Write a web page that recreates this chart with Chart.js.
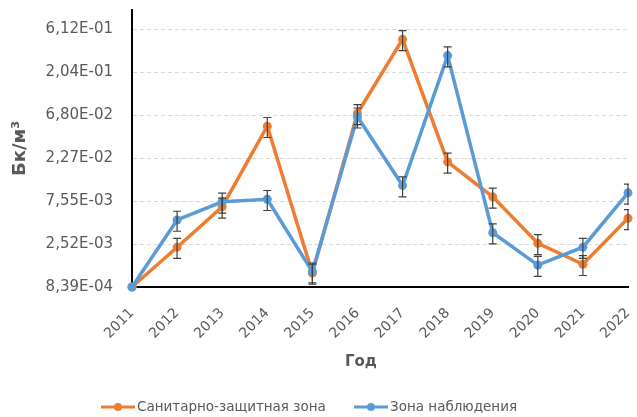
<!DOCTYPE html>
<html>
<head>
<meta charset="utf-8">
<script src="https://cdn.jsdelivr.net/npm/chart.js@4/dist/chart.umd.min.js"></script>
<style>
  html, body { margin: 0; padding: 0; background: #fff; }
  #wrap { width: 637px; height: 417px; }
</style>
</head>
<body>
<div id="wrap"><canvas id="c" width="637" height="417"></canvas></div>
<script>
// Годы наблюдений
const years = ['2011','2012','2013','2014','2015','2016','2017','2018','2019','2020','2021','2022'];

// Объёмная активность, Бк/м³
const sanZone = [8.39e-4, 2.32e-3, 6.5e-3, 5.1e-2, 1.2e-3, 7.1e-2, 0.47, 2.05e-2, 8.4e-3, 2.56e-3, 1.5e-3, 4.85e-3];
const obsZone = [8.39e-4, 4.65e-3, 7.4e-3, 7.9e-3, 1.24e-3, 6.5e-2, 1.12e-2, 0.31, 3.36e-3, 1.47e-3, 2.32e-3, 9.3e-3];

// Относительная погрешность (доля от значения)
const sanErr = [0, 0.25, 0.25, 0.25, 0.25, 0.25, 0.25, 0.25, 0.25, 0.25, 0.25, 0.25];
const obsErr = [0, 0.25, 0.25, 0.25, 0.25, 0.25, 0.25, 0.25, 0.25, 0.25, 0.25, 0.25];

// Деления логарифмической оси (шаг ×3)
const yTickValues = [8.39e-4, 2.517e-3, 7.551e-3, 2.2653e-2, 6.7959e-2, 0.203877, 0.61163];
const yTickLabels = ['8,39E-04', '2,52E-03', '7,55E-03', '2,27E-02', '6,80E-02', '2,04E-01', '6,12E-01'];

const seriesNames = ['Санитарно-защитная зона', 'Зона наблюдения'];
const ORANGE = '#ED7D31';
const BLUE = '#5B9BD5';
const TEXT = '#595959';
const FONT = '"DejaVu Sans", "Liberation Sans", sans-serif';

// Планки погрешностей
const errorBars = {
  id: 'errorBars',
  afterDatasetsDraw(chart) {
    const ctx = chart.ctx;
    const y = chart.scales.y;
    const x = chart.scales.x;
    const area = chart.chartArea;
    ctx.save();
    ctx.beginPath();
    ctx.rect(area.left - 6, area.top, area.right - area.left + 7, area.bottom - area.top);
    ctx.clip();
    ctx.strokeStyle = '#3f3f3f';
    ctx.lineWidth = 1.2;
    chart.data.datasets.forEach(ds => {
      ds.data.forEach((v, i) => {
        const f = ds.errFrac[i];
        if (!f) return;
        const px = x.getPixelForValue(i);
        const yt = y.getPixelForValue(v * (1 + f));
        const yb = y.getPixelForValue(v * (1 - f));
        ctx.beginPath();
        ctx.moveTo(px, yt); ctx.lineTo(px, yb);
        ctx.moveTo(px - 4, yt); ctx.lineTo(px + 4, yt);
        ctx.moveTo(px - 4, yb); ctx.lineTo(px + 4, yb);
        ctx.stroke();
      });
    });
    ctx.restore();
  }
};

// Подпись оси X и легенда
const extras = {
  id: 'extras',
  afterDraw(chart) {
    const ctx = chart.ctx;
    ctx.save();
    ctx.fillStyle = TEXT;
    ctx.font = 'bold 15px ' + FONT;
    ctx.textAlign = 'center';
    ctx.textBaseline = 'middle';
    ctx.fillText('Год', 361, 362);

    const items = [
      { x: 101, color: ORANGE, text: seriesNames[0] },
      { x: 354, color: BLUE, text: seriesNames[1] }
    ];
    const ly = 407;
    ctx.font = '13.5px ' + FONT;
    ctx.textAlign = 'left';
    items.forEach(it => {
      ctx.strokeStyle = it.color;
      ctx.lineWidth = 3;
      ctx.beginPath();
      ctx.moveTo(it.x, ly); ctx.lineTo(it.x + 34, ly);
      ctx.stroke();
      ctx.fillStyle = it.color;
      ctx.beginPath();
      ctx.arc(it.x + 17, ly, 4, 0, Math.PI * 2);
      ctx.fill();
      ctx.fillStyle = TEXT;
      ctx.fillText(it.text, it.x + 36, ly);
    });
    ctx.restore();
  }
};

new Chart(document.getElementById('c'), {
  type: 'line',
  data: {
    labels: years,
    datasets: [
      {
        label: seriesNames[0],
        data: sanZone,
        errFrac: sanErr,
        borderColor: ORANGE,
        backgroundColor: ORANGE,
        pointBackgroundColor: ORANGE,
        pointBorderColor: ORANGE,
        borderWidth: 3.5,
        pointRadius: 4.5,
        pointBorderWidth: 0,
        tension: 0,
        clip: false,
        order: 1
      },
      {
        label: seriesNames[1],
        data: obsZone,
        errFrac: obsErr,
        borderColor: BLUE,
        backgroundColor: BLUE,
        pointBackgroundColor: BLUE,
        pointBorderColor: BLUE,
        borderWidth: 3.5,
        pointRadius: 4.5,
        pointBorderWidth: 0,
        tension: 0,
        clip: false,
        order: 0
      }
    ]
  },
  options: {
    responsive: false,
    animation: false,
    devicePixelRatio: 1,
    layout: { autoPadding: false, padding: { top: 10, right: 9, bottom: 50, left: 0 } },
    plugins: {
      legend: { display: false },
      tooltip: { enabled: false }
    },
    scales: {
      x: {
        type: 'category',
        offset: false,
        grid: { display: false, drawTicks: false },
        border: { display: true, color: '#000', width: 2 },
        ticks: {
          color: TEXT,
          font: { family: FONT, size: 14 },
          minRotation: 45,
          maxRotation: 45,
          padding: 18,
          autoSkip: false
        },
        afterFit(scale) {
          scale.height = 80;
          scale.paddingLeft = 0;
          scale.paddingRight = 0;
        }
      },
      y: {
        type: 'logarithmic',
        min: 8.39e-4,
        max: 0.994,
        grid: { color: '#d9d9d9', lineWidth: 1, drawTicks: false },
        border: { display: true, color: '#000', width: 2, dash: [4, 3] },
        ticks: {
          color: TEXT,
          font: { family: FONT, size: 15 },
          padding: 19,
          callback: (v, i) => yTickLabels[i]
        },
        afterBuildTicks(scale) {
          scale.ticks = yTickValues.map(v => ({ value: v }));
        },
        title: {
          display: true,
          text: 'Бк/м³',
          color: TEXT,
          font: { family: FONT, size: 18, weight: 'bold' },
          padding: { top: 10, bottom: 0 }
        },
        afterFit(scale) {
          scale.width = 132;
          scale.paddingTop = 0;
          scale.paddingBottom = 0;
        }
      }
    }
  },
  plugins: [errorBars, extras]
});
</script>
</body>
</html>
